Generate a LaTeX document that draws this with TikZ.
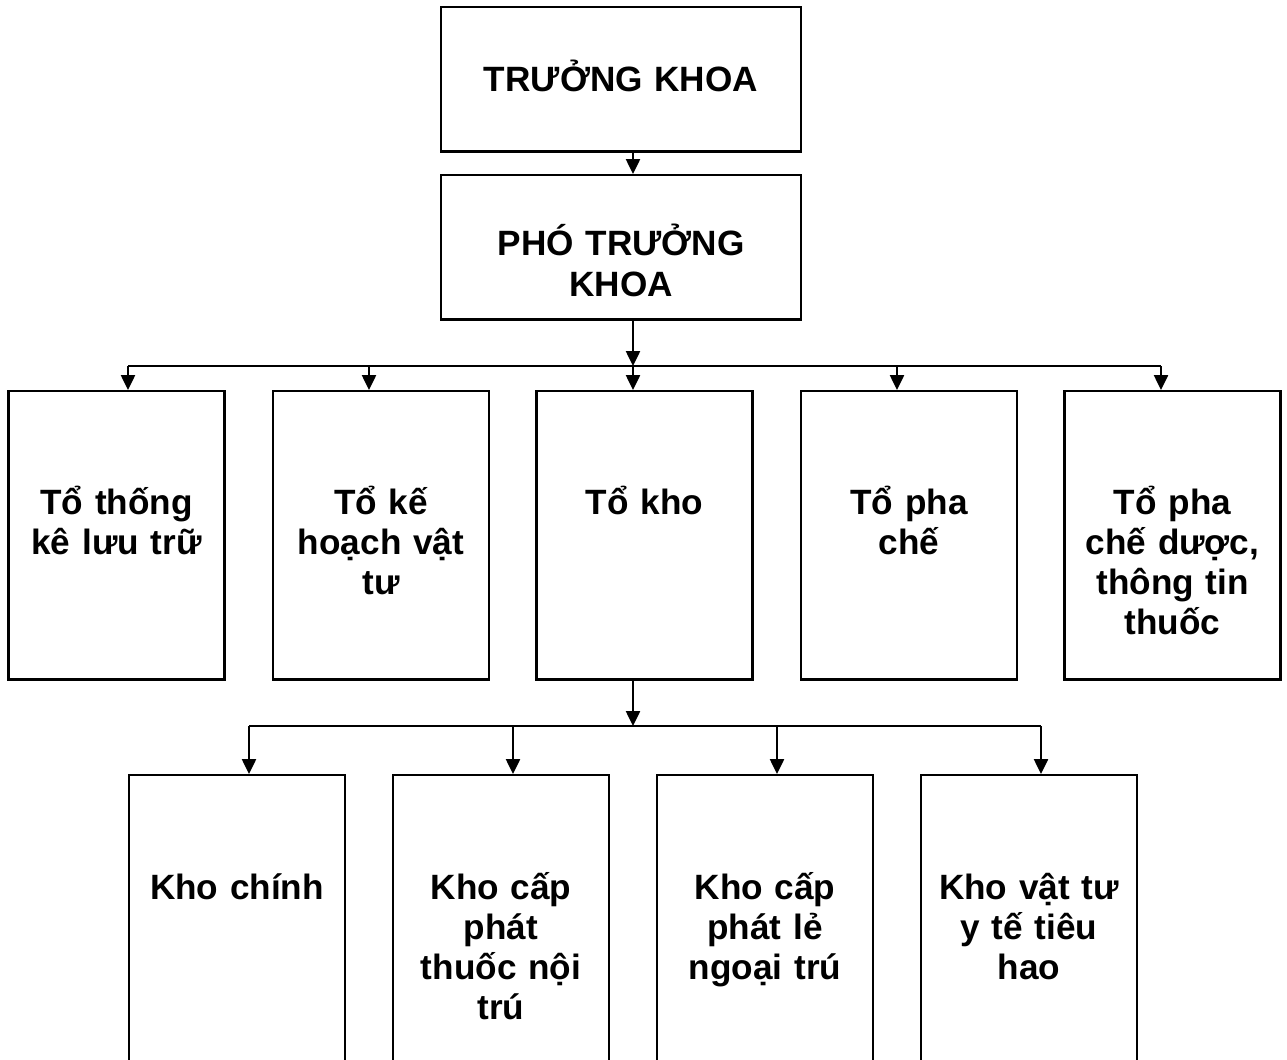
\documentclass[tikz,border=0pt]{standalone}
\usepackage{fontspec}
\setmainfont{Liberation Sans}
\usetikzlibrary{arrows.meta,calc}
\tikzset{
  khoi/.style={draw,line width=0.7pt,anchor=north,align=center,inner sep=0pt,text width=2.16cm,minimum width=2.16cm,font=\fontsize{10}{11.4}\selectfont\bfseries},
  khoito/.style={khoi,text height=1.23cm,text depth=1.65cm},
  khoikho/.style={khoi,text height=1.24cm,text depth=1.86cm},
  khoidau/.style={khoi,text width=3.6cm,minimum width=3.6cm,font=\fontsize{10}{11.8}\selectfont\bfseries},
  muiten/.style={-{Triangle[length=1.5mm,width=1.4mm]},line width=0.7pt},
  truc/.style={line width=0.7pt},
}
\begin{document}
\begin{tikzpicture}[x=0.01cm,y=-0.01cm]
  \useasboundingbox (0,0) rectangle (1287,1059);
  \clip (0,0) rectangle (1287,1059);
  % ban lanh dao
  \node[khoidau,text height=0.84cm,text depth=0.60cm] (truongkhoa) at (621,6) {TRƯỞNG KHOA};
  \node[khoidau,text height=0.80cm,text depth=0.64cm] (phokhoa) at (621,174) {PHÓ TRƯỞNG\\KHOA};
  % cac to
  \node[khoito] (to1) at (116.5,390) {Tổ thống\\kê lưu trữ};
  \node[khoito] (to2) at (381,390) {Tổ kế\\hoạch vật\\tư};
  \node[khoito] (to3) at (644.5,390) {Tổ kho};
  \node[khoito] (to4) at (909,390) {Tổ pha\\chế};
  \node[khoito] (to5) at (1172.5,390) {Tổ pha\\chế dược,\\thông tin\\thuốc};
  % cac kho
  \node[khoikho] (kho1) at (237,774) {Kho chính};
  \node[khoikho] (kho2) at (501,774) {Kho cấp\\phát\\thuốc nội\\trú};
  \node[khoikho] (kho3) at (765,774) {Kho cấp\\phát lẻ\\ngoại trú};
  \node[khoikho] (kho4) at (1029,774) {Kho vật tư\\y tế tiêu\\hao};
  % duong noi
  \foreach \x [count=\i] in {128,369,633,897,1161} {
    \coordinate (a\i) at (\x,366);
    \draw[muiten] (a\i) -- (a\i |- to\i.north);
  }
  \draw[truc] (a1) -- (a5);
  \draw[muiten] (a3 |- truongkhoa.south) -- (a3 |- phokhoa.north);
  \draw[muiten] (a3 |- phokhoa.south) -- (a3);
  \foreach \x [count=\i] in {249,513,777,1041} {
    \coordinate (b\i) at (\x,726);
    \draw[muiten] (b\i) -- (b\i |- kho\i.north);
  }
  \draw[truc] (b1) -- (b4);
  \draw[muiten] (a3 |- to3.south) -- (a3 |- b1);
\end{tikzpicture}
\end{document}
